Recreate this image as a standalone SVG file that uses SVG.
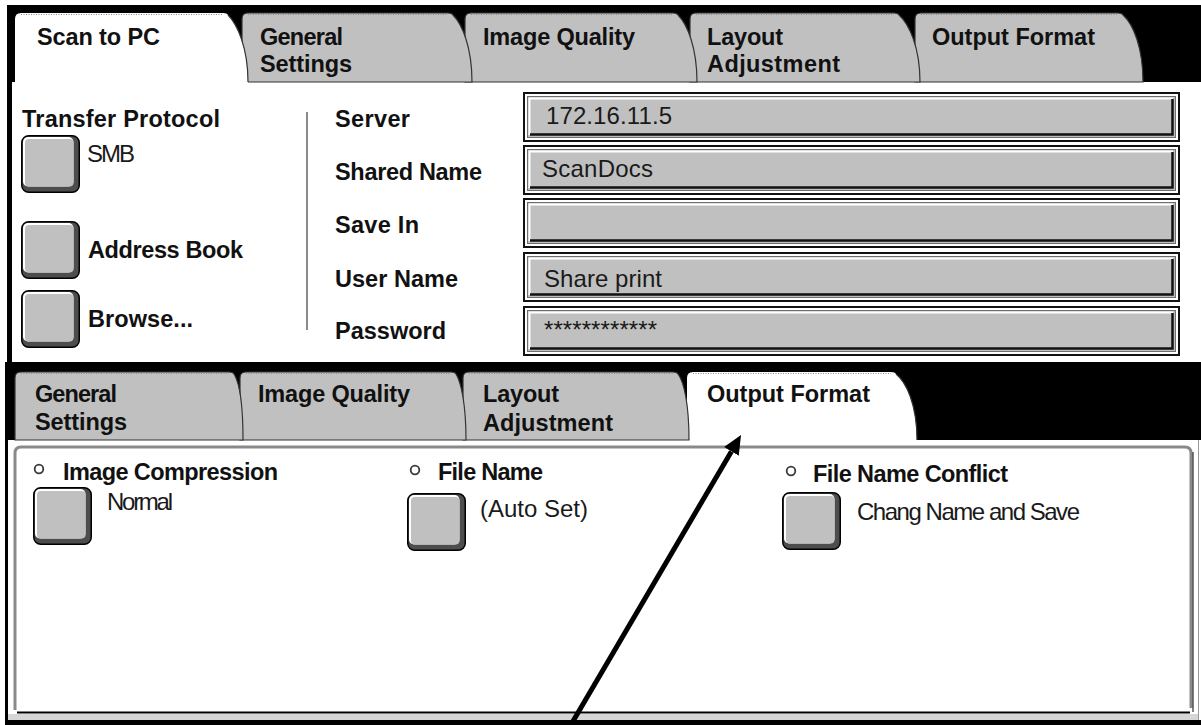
<svg xmlns="http://www.w3.org/2000/svg" width="1201" height="725" viewBox="0 0 1201 725">
<defs>
<style>
 .b{font-family:"Liberation Sans",Arial,Helvetica,sans-serif;font-weight:bold;font-size:23.5px;fill:#111}
 .r{font-family:"Liberation Sans",Arial,Helvetica,sans-serif;font-size:24px;fill:#1a1a1a}
 .tab{fill:#c0c0c0;stroke:#333;stroke-width:1.2}
 .tab-on{fill:#fff}
 .dots{fill:none;stroke:#8c8c8c;stroke-width:1;stroke-dasharray:1 1.5}
 .radio{fill:#fff;stroke:#3a3a3a;stroke-width:1.8}
 .conn{fill:none;stroke:#000;stroke-width:5}
</style>
<!-- raised push button, 59 x 58 -->
<g id="btn">
 <rect x="0.75" y="0.75" width="57.5" height="56.5" rx="7" fill="#4d4d4d" stroke="#000" stroke-width="1.5"/>
 <rect x="2" y="2" width="50.5" height="49.5" rx="5" fill="#fff"/>
 <rect x="4" y="4" width="48.5" height="47.5" rx="4" fill="#c0c0c0"/>
</g>
<!-- sunken entry field, 657 x 50 -->
<g id="field">
 <rect x="1" y="1" width="655" height="48" fill="#fff" stroke="#111" stroke-width="2"/>
 <rect x="4.5" y="4.5" width="648" height="41" fill="#c0c0c0" stroke="#6e6e6e" stroke-width="1"/>
 <path d="M6.5,43 V6.5 H650" fill="none" stroke="#fff" stroke-width="2"/>
 <path d="M7,42.5 H649.5 V7" fill="none" stroke="#111" stroke-width="2.5"/>
</g>
<marker id="head" markerUnits="userSpaceOnUse" markerWidth="19" markerHeight="17" viewBox="0 0 19 17" refX="0" refY="8.5" orient="auto">
 <path d="M0,0 L19,8.5 L0,17 Z" fill="#000"/>
</marker>
</defs>

<rect width="1201" height="725" fill="#fff"/>

<!-- ===== Upper screen: Scan to PC ===== -->
<rect x="7" y="5" width="1194" height="77" fill="#000"/>
<rect x="7" y="82" width="5" height="280" fill="#000"/>
<rect x="12" y="82" width="1189" height="280" fill="#fff"/>

<g id="tab-output-format-1">
 <path class="tab" d="M915,82 V19 Q915,13 921,13 H1118 Q1122,13 1123,15 C1133,24 1143,47 1143,82 Z"/>
 <path class="dots" d="M921,14.5 H1118"/>
 <text class="b" x="932" y="45" textLength="163">Output Format</text>
</g>
<g id="tab-layout-1">
 <path class="tab" d="M690,82 V19 Q690,13 696,13 H894 Q898,13 899,15 C909,24 920,47 920,82 Z"/>
 <path class="dots" d="M696,14.5 H894"/>
 <text class="b" x="707" y="45" textLength="76">Layout</text>
 <text class="b" x="707" y="72" textLength="133">Adjustment</text>
</g>
<g id="tab-image-quality-1">
 <path class="tab" d="M465,82 V19 Q465,13 471,13 H673 Q677,13 678,15 C687,24 697,47 697,82 Z"/>
 <path class="dots" d="M471,14.5 H673"/>
 <text class="b" x="483" y="45" textLength="152">Image Quality</text>
</g>
<g id="tab-general-1">
 <path class="tab" d="M242,82 V19 Q242,13 248,13 H448 Q452,13 453,15 C462,24 472,47 472,82 Z"/>
 <path class="dots" d="M248,14.5 H448"/>
 <text class="b" x="260" y="45" textLength="83">General</text>
 <text class="b" x="260" y="72" textLength="92">Settings</text>
</g>
<g id="tab-scan-to-pc">
 <path class="tab-on" d="M15,83 V19 Q15,13 21,13 H223 Q227,13 228,15 C237,24 248,47 248,83 Z"/>
 <path d="M228,15 C237,24 248,47 248,82" fill="none" stroke="#333" stroke-width="1.2"/>
 <path class="dots" d="M21,14.5 H223"/>
 <text class="b" x="37" y="45" textLength="123">Scan to PC</text>
</g>

<g id="transfer-protocol">
 <text class="b" x="22" y="127" textLength="198">Transfer Protocol</text>
 <use href="#btn" x="21" y="135"/>
 <text class="r" x="87" y="162" font-size="21" textLength="48">SMB</text>
</g>
<g id="address-book">
 <use href="#btn" x="21" y="221"/>
 <text class="b" x="88" y="258" textLength="155">Address Book</text>
</g>
<g id="browse">
 <use href="#btn" x="21" y="290"/>
 <text class="b" x="88" y="327" textLength="105">Browse...</text>
</g>
<line x1="307" y1="112" x2="307" y2="330" stroke="#8a8a8a" stroke-width="2"/>

<g id="server">
 <text class="b" x="335" y="127" textLength="75">Server</text>
 <use href="#field" x="523" y="92"/>
 <text class="r" x="546" y="124" textLength="126">172.16.11.5</text>
</g>
<g id="shared-name">
 <text class="b" x="335" y="180" textLength="147">Shared Name</text>
 <use href="#field" x="523" y="145"/>
 <text class="r" x="542" y="177" textLength="111">ScanDocs</text>
</g>
<g id="save-in">
 <text class="b" x="335" y="233" textLength="84">Save In</text>
 <use href="#field" x="523" y="198"/>
</g>
<g id="user-name">
 <text class="b" x="335" y="287" textLength="123">User Name</text>
 <use href="#field" x="523" y="252"/>
 <text class="r" x="544" y="287" textLength="118">Share print</text>
</g>
<g id="password">
 <text class="b" x="335" y="339" textLength="111">Password</text>
 <use href="#field" x="523" y="306"/>
 <text class="r" x="544" y="338" textLength="113">************</text>
</g>

<!-- ===== Lower screen: Output Format ===== -->
<rect x="5" y="362" width="1196" height="78" fill="#000"/>
<rect x="5" y="362" width="3" height="363" fill="#000"/>
<rect x="8" y="440" width="1190" height="280" fill="#fff"/>
<rect x="8" y="714" width="1190" height="6" fill="#d6d6d6"/>
<rect x="5" y="720" width="1196" height="5" fill="#000"/>
<line x1="1198.5" y1="440" x2="1198.5" y2="720" stroke="#9a9a9a" stroke-width="1"/>

<g id="tab-output-format-2">
 <path class="tab-on" d="M687,441 V378 Q687,372 693,372 H891 Q895,372 896,374 C906,382 917,404 917,441 Z"/>
 <path d="M896,374 C906,382 917,404 917,440" fill="none" stroke="#333" stroke-width="1.2"/>
 <path class="dots" d="M693,373.5 H891"/>
 <text class="b" x="707" y="402" textLength="163">Output Format</text>
</g>
<g id="tab-layout-2">
 <path class="tab" d="M463,440 V378 Q463,372 469,372 H673 Q677,372 678,374 C684,382 689,404 689,440 Z"/>
 <path class="dots" d="M469,373.5 H673"/>
 <text class="b" x="483" y="402" textLength="76">Layout</text>
 <text class="b" x="483" y="431" textLength="130">Adjustment</text>
</g>
<g id="tab-image-quality-2">
 <path class="tab" d="M240,440 V378 Q240,372 246,372 H451 Q455,372 456,374 C461,382 466,404 466,440 Z"/>
 <path class="dots" d="M246,373.5 H451"/>
 <text class="b" x="258" y="402" textLength="152">Image Quality</text>
</g>
<g id="tab-general-2">
 <path class="tab" d="M15,440 V378 Q15,372 21,372 H229 Q233,372 234,374 C239,382 243,404 243,440 Z"/>
 <path class="dots" d="M21,373.5 H229"/>
 <text class="b" x="35" y="402" textLength="82">General</text>
 <text class="b" x="35" y="430" textLength="92">Settings</text>
</g>

<g id="options-panel">
 <path d="M15,710 V453 Q15,447 21,447 H1185 Q1191,447 1191,453 V708" fill="none" stroke="#8a8a8a" stroke-width="3"/>
 <line x1="17" y1="712.5" x2="1190" y2="712.5" stroke="#000" stroke-width="2"/>
 <line x1="1193" y1="452" x2="1193" y2="712" stroke="#000" stroke-width="1"/>
</g>

<g id="image-compression">
 <circle class="radio" cx="39" cy="469" r="4.3"/>
 <text class="b" x="63" y="480" textLength="215">Image Compression</text>
 <use href="#btn" x="33" y="487"/>
 <text class="r" x="107" y="510" font-size="20.5" fill="#333" textLength="66">Normal</text>
</g>
<g id="file-name">
 <circle class="radio" cx="415" cy="470" r="4.3"/>
 <text class="b" x="438" y="480" textLength="105">File Name</text>
 <use href="#btn" x="407" y="493"/>
 <text class="r" x="480" y="517" font-size="23" fill="#333" textLength="108">(Auto Set)</text>
</g>
<g id="file-name-conflict">
 <circle class="radio" cx="791" cy="471" r="4.3"/>
 <text class="b" x="813" y="482" textLength="195">File Name Conflict</text>
 <use href="#btn" x="782" y="492"/>
 <text class="r" x="857" y="520" font-size="21.3" textLength="223">Chang Name and Save</text>
</g>

<g id="connectors">
 <line class="conn" x1="569" y1="728" x2="731.4" y2="451.4" marker-end="url(#head)"/>
</g>
</svg>
